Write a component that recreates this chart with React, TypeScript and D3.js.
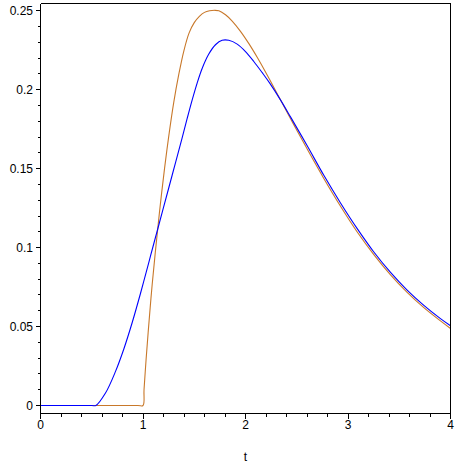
import React from "react";
import * as d3 from "d3";

const blueT = [0, 0.5, 0.54, 0.634, 0.732, 0.813, 0.894, 0.976, 1.057, 1.09, 1.193, 1.285, 1.38, 1.431, 1.48, 1.529, 1.577, 1.642, 1.707, 1.772, 1.837, 1.919, 2.0, 2.081, 2.163, 2.238, 2.341, 2.439, 2.602, 2.764, 2.927, 3.09, 3.252, 3.415, 3.577, 3.74, 3.902, 4.0];
const blueV = [0, 0, 0, 0.0079, 0.0216, 0.0358, 0.0524, 0.0711, 0.0907, 0.0988, 0.1237, 0.146, 0.169, 0.1818, 0.1936, 0.2044, 0.2135, 0.2226, 0.2285, 0.2313, 0.2313, 0.2289, 0.2242, 0.2179, 0.2108, 0.2040, 0.1936, 0.1828, 0.1645, 0.1458, 0.1283, 0.1120, 0.0972, 0.0843, 0.0731, 0.0634, 0.0550, 0.0505];

const orangeT = [0, 0.95, 1.0, 1.01, 1.03, 1.05, 1.07, 1.09, 1.12, 1.16, 1.21, 1.25, 1.3, 1.35, 1.4, 1.45, 1.5, 1.55, 1.6, 1.65, 1.7, 1.74, 1.805, 1.87, 1.951, 2.033, 2.114, 2.179, 2.238, 2.341, 2.471, 2.602, 2.764, 2.927, 3.09, 3.252, 3.415, 3.577, 3.74, 3.902, 4.0];
const orangeV = [0, 0, 0, 0.01, 0.029, 0.046, 0.062, 0.077, 0.097, 0.122, 0.15, 0.17, 0.192, 0.21, 0.225, 0.236, 0.2425, 0.2465, 0.249, 0.25, 0.2503, 0.25, 0.2475, 0.2435, 0.2370, 0.2292, 0.2206, 0.2132, 0.2062, 0.1936, 0.1779, 0.1624, 0.1438, 0.1262, 0.1099, 0.0956, 0.0828, 0.0717, 0.0620, 0.0536, 0.0488];

const xTicks = [0, 1, 2, 3, 4];
const xTickLabels = ["0", "1", "2", "3", "4"];
const yTicks = [0, 0.05, 0.1, 0.15, 0.2, 0.25];
const yTickLabels = ["0", "0.05", "0.1", "0.15", "0.2", "0.25"];
const xLabel = "t";

const FONT = "'Liberation Sans', Arial, sans-serif";

export default function App() {
  const x = d3.scaleLinear().domain([0, 4]).range([40.5, 450.5]);
  const y = d3.scaleLinear().domain([0, 0.25]).range([405.5, 10.8]);
  const left = 40.5, right = 450.5, top = 3.5, bottom = 413.5;

  const line = d3
    .line<[number, number]>()
    .x((d) => x(d[0]))
    .y((d) => Math.min(y(d[1]), y(0)))
    .curve(d3.curveCatmullRom.alpha(0.5));

  const blueData = blueT.map((t, i) => [t, blueV[i]] as [number, number]);
  const orangeData = orangeT.map((t, i) => [t, orangeV[i]] as [number, number]);

  const xMinor = d3.range(0, 4.0001, 0.2).filter((v) => Math.abs(v - Math.round(v)) > 1e-6);
  const yMinor = d3.range(0, 0.25001, 0.01).filter((v) => Math.abs(v / 0.05 - Math.round(v / 0.05)) > 1e-6);
  const snap = (v: number) => Math.round(v - 0.5) + 0.5;

  return (
    <svg
      width={464}
      height={464}
      style={{ position: "absolute", left: 0, top: 0, background: "#fff" }}
    >
      <rect x={0} y={0} width={464} height={464} fill="#fff" />
      <path d={line(orangeData) || ""} fill="none" stroke="#c8782a" strokeWidth={1.1} />
      <path d={line(blueData) || ""} fill="none" stroke="#0000ff" strokeWidth={1.1} />
      <g stroke="#000" strokeWidth={1} shapeRendering="crispEdges">
        <line x1={left} x2={right} y1={top} y2={top} />
        <line x1={left} x2={right} y1={bottom} y2={bottom} />
        <line x1={left} x2={left} y1={top} y2={bottom} />
        <line x1={right} x2={right} y1={top} y2={bottom} />
        {xTicks.map((v) => (
          <line key={"xt" + v} x1={x(v)} x2={x(v)} y1={bottom} y2={bottom + 5} />
        ))}
        {xMinor.map((v) => (
          <line key={"xm" + v} x1={snap(x(v))} x2={snap(x(v))} y1={bottom} y2={bottom + 3} />
        ))}
        {yTicks.map((v) => (
          <line key={"yt" + v} x1={left - 5} x2={left} y1={snap(y(v))} y2={snap(y(v))} />
        ))}
        {yMinor.map((v) => (
          <line key={"ym" + v} x1={left - 3} x2={left} y1={snap(y(v))} y2={snap(y(v))} />
        ))}
      </g>
      <g fontFamily={FONT} fontSize={12} fill="#000">
        {yTicks.map((v, i) => (
          <text key={"yl" + v} x={33} y={y(v)} dy="0.36em" textAnchor="end">
            {yTickLabels[i]}
          </text>
        ))}
        {xTicks.map((v, i) => (
          <text key={"xl" + v} x={x(v)} y={429} textAnchor="middle">
            {xTickLabels[i]}
          </text>
        ))}
        <text x={x(2)} y={461} textAnchor="middle">
          {xLabel}
        </text>
      </g>
    </svg>
  );
}
